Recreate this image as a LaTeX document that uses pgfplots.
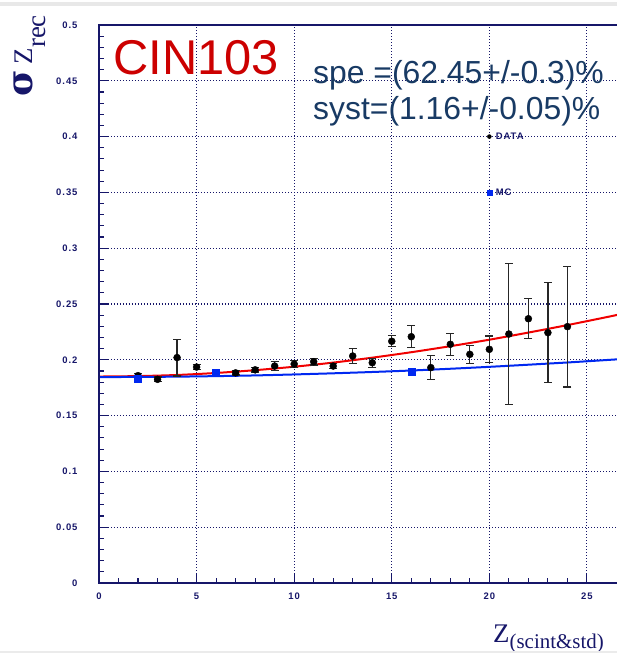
\documentclass[border=0pt]{standalone}
\usepackage{pgfplots}
\pgfplotsset{compat=1.18}
\usepackage{fontspec}
\setmainfont{Liberation Sans}
\newfontfamily\serifface{Liberation Serif}
\newfontfamily\sigmaface{DejaVu Serif}
\newfontfamily\tickface[LetterSpace=10]{Liberation Sans}

\definecolor{axisnavy}{RGB}{22,22,105}
\definecolor{fitred}{RGB}{240,0,0}
\definecolor{mcblue}{RGB}{0,40,240}
\definecolor{cinred}{RGB}{204,0,0}
\definecolor{infoblue}{RGB}{24,58,100}

% sigma(Z_rec) per charge bin, with statistical error
\pgfplotstableread{
x   y       e
2   0.1858  0.002
3   0.1825  0.002
4   0.2020  0.0165
5   0.1935  0.002
6   0.1880  0.002
7   0.1883  0.002
8   0.1910  0.002
9   0.1944  0.004
10  0.1962  0.003
11  0.1983  0.003
12  0.1944  0.002
13  0.2034  0.0065
14  0.1974  0.004
15  0.2166  0.005
16  0.2207  0.010
17  0.1930  0.0105
18  0.2139  0.010
19  0.2049  0.0082
20  0.2094  0.012
21  0.2231  0.0635
22  0.2368  0.018
23  0.2243  0.045
24  0.2297  0.054
}\datatable

\begin{document}
\begin{tikzpicture}
\begin{axis}[
  scale only axis, width=518bp, height=558bp,
  xmin=0, xmax=26.54, ymin=0, ymax=0.5,
  xtick={0,5,10,15,20,25},
  ytick={0,0.05,0.1,0.15,0.2,0.25,0.3,0.35,0.4,0.45,0.5},
  minor x tick num=4, minor y tick num=4,
  tick align=inside, xtick pos=left, ytick pos=left,
  major tick length=10bp, minor tick length=5bp,
  tick style={axisnavy, line width=1.1bp},
  grid=major,
  major grid style={axisnavy, line width=1.1bp, dash pattern=on 1bp off 2bp},
  axis line style={draw=none},
  clip=false,
  /pgf/number format/assume math mode=true,
  /pgf/number format/fixed,
  /pgf/number format/precision=2,
  ticklabel style={font=\tickface\fontsize{9.5}{10}\selectfont\bfseries, text=axisnavy},
  yticklabel style={xshift=-18bp},
  xticklabel style={yshift=-6bp},
]
\coordinate (sw) at (rel axis cs:0,0);
\coordinate (ne) at (rel axis cs:1,1);

% data-driven fit
\addplot[fitred, line width=2bp, smooth] coordinates {
 (0,0.1850) (2,0.1854) (4,0.1864) (6,0.1882) (8,0.1907) (10,0.1938)
 (12,0.1975) (14,0.2019) (16,0.2068) (18,0.2122) (20,0.2180)
 (22,0.2244) (24,0.2311) (26,0.2382) (26.54,0.2402)};
% simulation fit
\addplot[mcblue, line width=2bp, smooth] coordinates {
 (0,0.1845) (4,0.1849) (8,0.1860) (12,0.1879) (16,0.1904)
 (20,0.1937) (24,0.1976) (26.54,0.2004)};

\addplot[only marks, mark=*, mark size=3.5bp, black,
  error bars/.cd, y dir=both, y explicit,
  error bar style={line width=1.2bp, black!85},
  error mark options={rotate=90, mark size=4bp, line width=1.2bp, black!85}]
  table[x=x, y=y, y error=e] {\datatable};

\addplot[only marks, mark=square*, mark size=3.5bp, mcblue]
  coordinates {(2,0.1830) (6,0.1880) (16,0.1894)};

% key
\addplot[only marks, mark=*, mark size=2bp, black] coordinates {(20,0.4)}
  node[anchor=west, xshift=3bp, font=\tickface\fontsize{9.5}{10}\selectfont\bfseries, text=axisnavy] {DATA};
\addplot[only marks, mark=square*, mark size=2.5bp, mcblue] coordinates {(20,0.35)}
  node[anchor=west, xshift=3bp, font=\tickface\fontsize{9.5}{10}\selectfont\bfseries, text=axisnavy] {MC};

\draw[axisnavy, line width=1.5bp] (rel axis cs:1,1) -- (rel axis cs:0,1)
  -- (rel axis cs:0,0) -- (rel axis cs:1,0);
\end{axis}

\node[anchor=base west, inner sep=0, text=cinred, font=\fontsize{49}{49}\selectfont]
  at ([shift={(14bp,508bp)}]sw) {CIN103};
\node[anchor=base west, inner sep=0, text=infoblue, font=\fontsize{32}{32}\selectfont]
  at ([shift={(214bp,499bp)}]sw) {spe =(62.45+/-0.3)\%};
\node[anchor=base west, inner sep=0, text=infoblue, font=\fontsize{32}{32}\selectfont]
  at ([shift={(214bp,463bp)}]sw) {syst=(1.16+/-0.05)\%};

\node[anchor=base west, inner sep=0, text=axisnavy, font=\serifface\fontsize{27}{27}\selectfont]
  at ([shift={(394bp,-59bp)}]sw) {Z\raisebox{-6bp}{\fontsize{21}{21}\selectfont(scint\&std)}};
\node[rotate=90, anchor=base west, inner sep=0, text=axisnavy, font=\serifface]
  at ([shift={(-67bp,486bp)}]sw)
  {{\sigmaface\fontsize{36}{36}\selectfont\bfseries σ}\hspace{6bp}{\fontsize{27}{27}\selectfont Z\raisebox{-13bp}{rec}}};

\fill[black!9] ([shift={(-617bp,19bp)}]ne) rectangle ([shift={(0bp,23bp)}]ne);
\fill[black!8] ([shift={(-99bp,-70bp)}]sw) rectangle ([shift={(518bp,-67.5bp)}]sw);

\pgfresetboundingbox
\useasboundingbox ([shift={(-99bp,-70bp)}]sw) rectangle ([shift={(0bp,25bp)}]ne);
\end{tikzpicture}
\end{document}
